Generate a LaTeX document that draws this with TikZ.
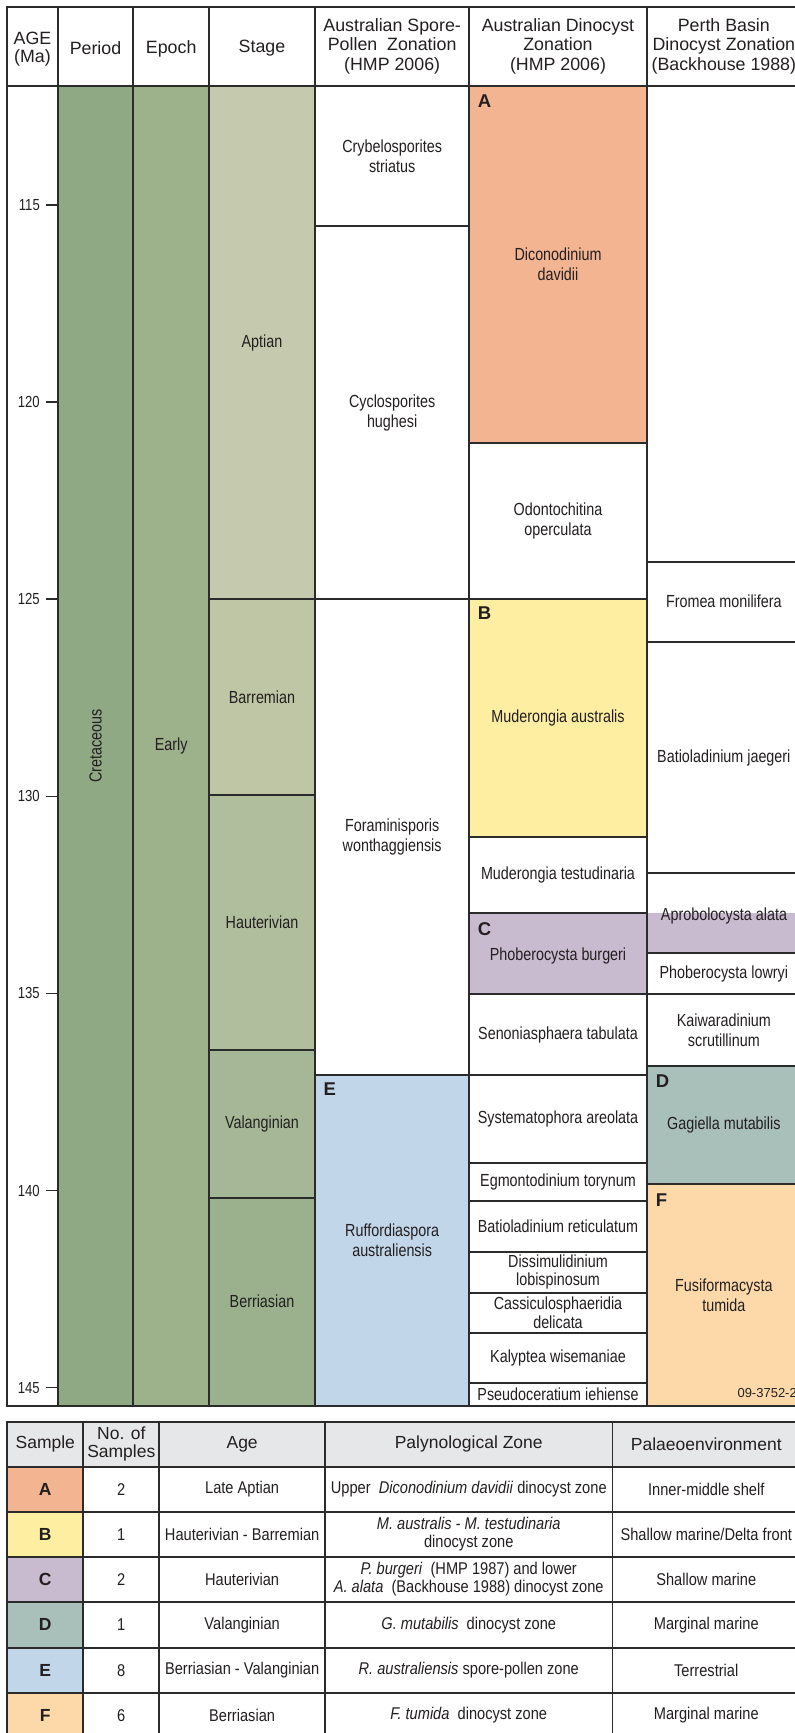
\documentclass[tikz,border=0pt]{standalone}
\usepackage{fontspec}
\setmainfont{Liberation Sans}
\newfontfamily\nar[FakeStretch=0.82]{Liberation Sans}
\newfontfamily\nartab[FakeStretch=0.86]{Liberation Sans}
\definecolor{txt}{HTML}{231F20}
\definecolor{linec}{HTML}{2B2B2B}
\definecolor{cper}{HTML}{8FA985}
\definecolor{cepo}{HTML}{9DB18B}
\definecolor{capt}{HTML}{C5C9AD}
\definecolor{cbar}{HTML}{BEC6A6}
\definecolor{chau}{HTML}{B1BE9E}
\definecolor{cval}{HTML}{A5B796}
\definecolor{cber}{HTML}{9BB08D}
\definecolor{zA}{HTML}{F2B491}
\definecolor{zB}{HTML}{FDEEA2}
\definecolor{zC}{HTML}{C8BBCF}
\definecolor{zD}{HTML}{A9BFBA}
\definecolor{zE}{HTML}{C2D6EA}
\definecolor{zF}{HTML}{FDD9AA}
\definecolor{thead}{HTML}{E6E7E8}
% cell: [style]{name}{x1}{y1}{x2}{y2}{fill}{text}
\newcommand\zc[8][body]{%
  \draw[cellline,fill=#7] (#3,#4) rectangle (#5,#6);
  \node[#1] (#2) at ({(#3+#5)/2},{(#4+#6)/2}) {#8};}
\newcommand\zr[5]{\draw[cellline,fill=#5] (#1,#2) rectangle (#3,#4);}
\begin{document}
\begin{tikzpicture}[x=1pt,y=-1pt,
  cellline/.style={draw=linec,line width=1.7},
  body/.style={font=\nar\fontsize{17.5}{20}\selectfont,text=txt,align=center,inner sep=0},
  bodytight/.style={font=\nar\fontsize{17.5}{18.3}\selectfont,text=txt,align=center,inner sep=0},
  hdr/.style={font=\fontsize{17.8}{19.3}\selectfont,text=txt,align=center,inner sep=0},
  hdrtight/.style={font=\fontsize{17.8}{17.5}\selectfont,text=txt,align=center,inner sep=0},
  tag/.style={font=\bfseries\fontsize{18.5}{20}\selectfont,text=txt,anchor=north west,inner sep=0},
  tickst/.style={draw=linec,line width=1.5},
  ticklab/.style={font=\nar\fontsize{16}{18}\selectfont,text=txt,anchor=east,inner sep=0},
  tbody/.style={font=\nartab\fontsize{17}{18.3}\selectfont,text=txt,align=center,inner sep=0},
  thdr/.style={font=\fontsize{17.5}{18.3}\selectfont,text=txt,align=center,inner sep=0},
  tletter/.style={font=\bfseries\fontsize{17.5}{20}\selectfont,text=txt,align=center,inner sep=0},
  code/.style={font=\fontsize{13}{14}\selectfont,text=txt,anchor=base east,inner sep=0}]
\useasboundingbox (0,0) rectangle (795,1733);
\fill[white] (0,0) rectangle (795,1733);

% ---------- header ----------
\zr{7.3}{6.7}{57.7}{86}{white}
\node[hdrtight] (hAge) at (32.5,49) {AGE\\(Ma)};
\zr{57.7}{6.7}{133.3}{86}{white}
\node[hdr] (hPer) at (95.5,48.5) {Period};
\zr{133.3}{6.7}{209}{86}{white}
\node[hdr] (hEpo) at (171.2,48.5) {Epoch};
\zr{209}{6.7}{315}{86}{white}
\node[hdr] (hSta) at (262,48.5) {Stage};
\zc[hdr]{hSpo}{315}{6.7}{469.3}{86}{white}{Australian Spore-\\Pollen~ Zonation\\(HMP 2006)}
\zc[hdr]{hDin}{469.3}{6.7}{646.7}{86}{white}{Australian Dinocyst\\Zonation\\(HMP 2006)}
\zc[hdr]{hPrt}{646.7}{6.7}{801}{86}{white}{Perth Basin\\Dinocyst Zonation\\(Backhouse 1988)}

% ---------- age column ----------
\zr{7.3}{86}{57.7}{1405.7}{white}
\foreach \a in {115,120,...,145}{
  \coordinate (t\a) at (46,{205+(\a-115)*39.42});
  \draw[tickst] (t\a) -- ++(11.7,0);
  \node[ticklab] (l\a) at (40,{205+(\a-115)*39.42}) {\a};
}

% ---------- period / epoch ----------
\zr{57.7}{86}{133.3}{1405.7}{cper}
\node[body,rotate=90] (per) at (95.5,745.8) {Cretaceous};
\zc{epo}{133.3}{86}{209}{1405.7}{cepo}{Early}

% ---------- stages ----------
\zc{sApt}{209}{86}{315}{599}{capt}{Aptian}
\zc{sBar}{209}{599}{315}{795}{cbar}{Barremian}
\zc{sHau}{209}{795}{315}{1050}{chau}{Hauterivian}
\zc{sVal}{209}{1050}{315}{1197.7}{cval}{Valanginian}
\zc{sBer}{209}{1197.7}{315}{1405.7}{cber}{Berriasian}

% ---------- spore-pollen ----------
\zc{pCry}{315}{86}{469.3}{226}{white}{Crybelosporites\\striatus}
\zc{pCyc}{315}{226}{469.3}{599}{white}{Cyclosporites\\hughesi}
\zc{pFor}{315}{599}{469.3}{1075}{white}{Foraminisporis\\wonthaggiensis}
\zc{pRuf}{315}{1075}{469.3}{1405.7}{zE}{Ruffordiaspora\\australiensis}
\node[tag] (tE) at (323.3,1083) {E};

% ---------- Australian dinocyst ----------
\zc{dDic}{469.3}{86}{646.7}{443.3}{zA}{Diconodinium\\davidii}
\node[tag] (tA) at (477.7,95) {A};
\zc{dOdo}{469.3}{443.3}{646.7}{599}{white}{Odontochitina\\operculata}
\zc{dMau}{469.3}{599}{646.7}{836.7}{zB}{Muderongia australis}
\node[tag] (tB) at (477.7,607) {B};
\zc{dMut}{469.3}{836.7}{646.7}{913.3}{white}{Muderongia testudinaria}
\zr{469.3}{913.3}{646.7}{994.3}{zC}
\node[body] (dPbu) at (558,956) {Phoberocysta burgeri};
\node[tag] (tC) at (477.7,922) {C};
\zc{dSen}{469.3}{994.3}{646.7}{1075}{white}{Senoniasphaera tabulata}
\zc{dSys}{469.3}{1075}{646.7}{1163.3}{white}{Systematophora areolata}
\zc{dEgm}{469.3}{1163.3}{646.7}{1200.7}{white}{Egmontodinium torynum}
\zc{dBre}{469.3}{1200.7}{646.7}{1251.7}{white}{Batioladinium reticulatum}
\zc[bodytight]{dDis}{469.3}{1251.7}{646.7}{1292.7}{white}{Dissimulidinium\\lobispinosum}
\zc[bodytight]{dCas}{469.3}{1292.7}{646.7}{1332.7}{white}{Cassiculosphaeridia\\delicata}
\zc{dKal}{469.3}{1332.7}{646.7}{1383.3}{white}{Kalyptea wisemaniae}
\zc{dPse}{469.3}{1383.3}{646.7}{1405.7}{white}{Pseudoceratium iehiense}

% ---------- Perth basin ----------
\zr{646.7}{86}{801}{561.7}{white}
\zc{bFro}{646.7}{561.7}{801}{641.7}{white}{Fromea monilifera}
\zc{bBja}{646.7}{641.7}{801}{873.3}{white}{Batioladinium jaegeri}
\fill[zC] (646.7,913.3) rectangle (801,953.3);
\zr{646.7}{873.3}{801}{953.3}{none}
\node[body] (bApr) at (724,916) {Aprobolocysta alata};
\zc{bPlo}{646.7}{953.3}{801}{994.3}{white}{Phoberocysta lowryi}
\zc{bKai}{646.7}{994.3}{801}{1066}{white}{Kaiwaradinium\\scrutillinum}
\zc{bGag}{646.7}{1066}{801}{1184.3}{zD}{Gagiella mutabilis}
\node[tag] (tD) at (655.7,1075) {D};
\zc{bFus}{646.7}{1184.3}{801}{1405.7}{zF}{Fusiformacysta\\tumida}
\node[tag] (tF) at (655.7,1193.3) {F};
\node[code] (fig) at (797,1397) {09-3752-2};

% ---------- lower table ----------
\zc[thdr]{th1}{7.3}{1421.7}{83.3}{1466.7}{thead}{Sample}
\zc[thdr]{th2}{83.3}{1421.7}{159.3}{1466.7}{thead}{No. of\\Samples}
\zc[thdr]{th3}{159.3}{1421.7}{325}{1466.7}{thead}{Age}
\zc[thdr]{th4}{325}{1421.7}{612.5}{1466.7}{thead}{Palynological Zone}
\zc[thdr]{th5}{612.5}{1421.7}{800}{1466.7}{thead}{Palaeoenvironment}

% row A
\zc[tletter]{rA1}{7.3}{1466.7}{83.3}{1511.7}{zA}{A}
\zc[tbody]{rA2}{83.3}{1466.7}{159.3}{1511.7}{white}{2}
\zc[tbody]{rA3}{159.3}{1466.7}{325}{1511.7}{white}{Late Aptian}
\zc[tbody]{rA4}{325}{1466.7}{612.5}{1511.7}{white}{Upper~ \textit{Diconodinium davidii} dinocyst zone}
\zc[tbody]{rA5}{612.5}{1466.7}{800}{1511.7}{white}{Inner-middle shelf}
% row B
\zc[tletter]{rB1}{7.3}{1511.7}{83.3}{1556.7}{zB}{B}
\zc[tbody]{rB2}{83.3}{1511.7}{159.3}{1556.7}{white}{1}
\zc[tbody]{rB3}{159.3}{1511.7}{325}{1556.7}{white}{Hauterivian - Barremian}
\zc[tbody]{rB4}{325}{1511.7}{612.5}{1556.7}{white}{\textit{M. australis - M. testudinaria}\\dinocyst zone}
\zc[tbody]{rB5}{612.5}{1511.7}{800}{1556.7}{white}{Shallow marine/Delta front}
% row C
\zc[tletter]{rC1}{7.3}{1556.7}{83.3}{1601.7}{zC}{C}
\zc[tbody]{rC2}{83.3}{1556.7}{159.3}{1601.7}{white}{2}
\zc[tbody]{rC3}{159.3}{1556.7}{325}{1601.7}{white}{Hauterivian}
\zc[tbody]{rC4}{325}{1556.7}{612.5}{1601.7}{white}{\textit{P. burgeri}~ (HMP 1987) and lower\\\textit{A. alata}~ (Backhouse 1988) dinocyst zone}
\zc[tbody]{rC5}{612.5}{1556.7}{800}{1601.7}{white}{Shallow marine}
% row D
\zc[tletter]{rD1}{7.3}{1601.7}{83.3}{1647.7}{zD}{D}
\zc[tbody]{rD2}{83.3}{1601.7}{159.3}{1647.7}{white}{1}
\zc[tbody]{rD3}{159.3}{1601.7}{325}{1647.7}{white}{Valanginian}
\zc[tbody]{rD4}{325}{1601.7}{612.5}{1647.7}{white}{\textit{G. mutabilis}~ dinocyst zone}
\zc[tbody]{rD5}{612.5}{1601.7}{800}{1647.7}{white}{Marginal marine}
% row E
\zc[tletter]{rE1}{7.3}{1647.7}{83.3}{1692.7}{zE}{E}
\zc[tbody]{rE2}{83.3}{1647.7}{159.3}{1692.7}{white}{8}
\zc[tbody]{rE3}{159.3}{1647.7}{325}{1692.7}{white}{Berriasian - Valanginian}
\zc[tbody]{rE4}{325}{1647.7}{612.5}{1692.7}{white}{\textit{R. australiensis} spore-pollen zone}
\zc[tbody]{rE5}{612.5}{1647.7}{800}{1692.7}{white}{Terrestrial}
% row F
\zc[tletter]{rF1}{7.3}{1692.7}{83.3}{1737.7}{zF}{F}
\zc[tbody]{rF2}{83.3}{1692.7}{159.3}{1737.7}{white}{6}
\zc[tbody]{rF3}{159.3}{1692.7}{325}{1737.7}{white}{Berriasian}
\zc[tbody]{rF4}{325}{1692.7}{612.5}{1737.7}{white}{\textit{F. tumida}~ dinocyst zone}
\zc[tbody]{rF5}{612.5}{1692.7}{800}{1737.7}{white}{Marginal marine}
\end{tikzpicture}
\end{document}
